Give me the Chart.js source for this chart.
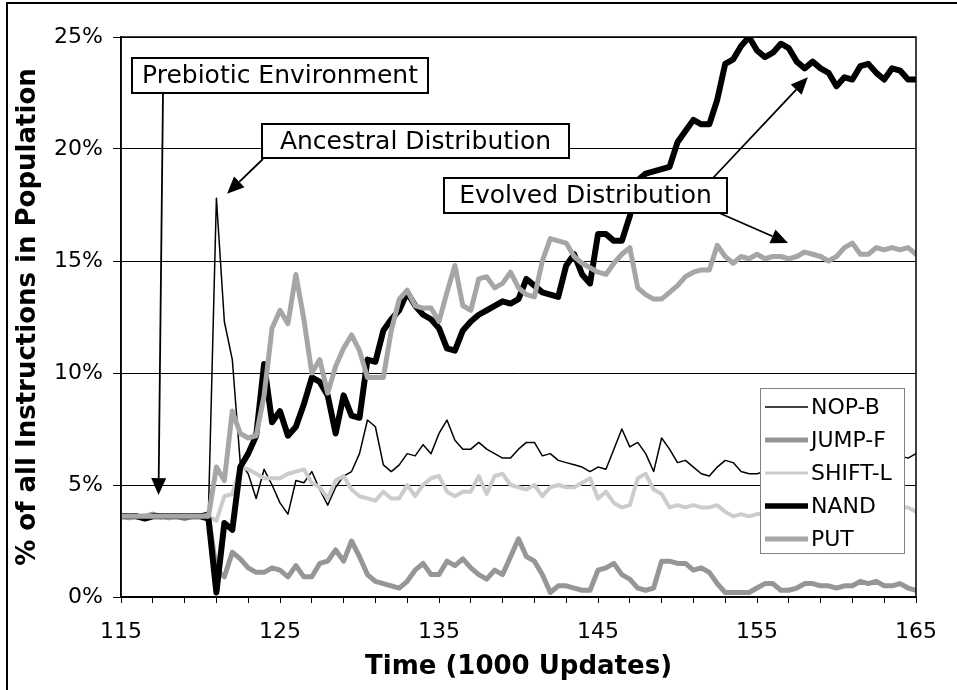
<!DOCTYPE html>
<html lang="en">
<head>
<meta charset="UTF-8">
<title>Instructions in Population</title>
<script src="https://cdn.jsdelivr.net/npm/chart.js"></script>
<style>
  html, body { margin: 0; padding: 0; background: #fff; }
  #wrap { width: 957px; height: 690px; }
</style>
</head>
<body>
<div id="wrap"><canvas id="chart" width="957" height="690"></canvas></div>
<script>
// time axis, in 1000 updates
const updates = [
  115, 115.5, 116, 116.5, 117, 117.5, 118, 118.5, 119, 119.5,
  120, 120.5, 121, 121.5, 122, 122.5, 123, 123.5, 124, 124.5,
  125, 125.5, 126, 126.5, 127, 127.5, 128, 128.5, 129, 129.5,
  130, 130.5, 131, 131.5, 132, 132.5, 133, 133.5, 134, 134.5,
  135, 135.5, 136, 136.5, 137, 137.5, 138, 138.5, 139, 139.5,
  140, 140.5, 141, 141.5, 142, 142.5, 143, 143.5, 144, 144.5,
  145, 145.5, 146, 146.5, 147, 147.5, 148, 148.5, 149, 149.5,
  150, 150.5, 151, 151.5, 152, 152.5, 153, 153.5, 154, 154.5,
  155, 155.5, 156, 156.5, 157, 157.5, 158, 158.5, 159, 159.5,
  160, 160.5, 161, 161.5, 162, 162.5, 163, 163.5, 164, 164.5,
  165
];

// % of all instructions
const nopB = [
  3.6, 3.6, 3.5, 3.6, 3.6, 3.5, 3.6, 3.6, 3.6, 3.6,
  3.7, 3.8, 17.8, 12.3, 10.6, 6.0, 5.5, 4.4, 5.7, 5.0,
  4.2, 3.7, 5.2, 5.1, 5.6, 4.8, 4.1, 4.9, 5.4, 5.6,
  6.4, 7.9, 7.6, 5.9, 5.6, 5.9, 6.4, 6.3, 6.8, 6.4,
  7.3, 7.9, 7.0, 6.6, 6.6, 6.9, 6.6, 6.4, 6.2, 6.2,
  6.6, 6.9, 6.9, 6.3, 6.4, 6.1, 6.0, 5.9, 5.8, 5.6,
  5.8, 5.7, 6.6, 7.5, 6.7, 6.9, 6.4, 5.6, 7.1, 6.6,
  6.0, 6.1, 5.8, 5.5, 5.4, 5.8, 6.1, 6.0, 5.6, 5.5,
  5.5, 5.6, 5.8, 5.7, 5.9, 6.1, 5.9, 5.8, 6.0, 6.2,
  6.0, 5.9, 6.1, 6.3, 6.2, 6.0, 6.2, 6.4, 6.3, 6.2,
  6.4
];
const jumpF = [
  3.6, 3.6, 3.6, 3.6, 3.7, 3.6, 3.6, 3.6, 3.5, 3.6,
  3.6, 3.6, 1.2, 0.9, 2.0, 1.7, 1.3, 1.1, 1.1, 1.3,
  1.2, 0.9, 1.4, 0.9, 0.9, 1.5, 1.6, 2.1, 1.6, 2.5,
  1.8, 1.0, 0.7, 0.6, 0.5, 0.4, 0.7, 1.2, 1.5, 1.0,
  1.0, 1.6, 1.4, 1.7, 1.3, 1.0, 0.8, 1.2, 1.0, 1.8,
  2.6, 1.8, 1.6, 1.0, 0.2, 0.5, 0.5, 0.4, 0.3, 0.3,
  1.2, 1.3, 1.5, 1.0, 0.8, 0.4, 0.3, 0.4, 1.6, 1.6,
  1.5, 1.5, 1.2, 1.3, 1.1, 0.6, 0.2, 0.2, 0.2, 0.2,
  0.4, 0.6, 0.6, 0.3, 0.3, 0.4, 0.6, 0.6, 0.5, 0.5,
  0.4, 0.5, 0.5, 0.7, 0.6, 0.7, 0.5, 0.5, 0.6, 0.4,
  0.3
];
const shiftL = [
  3.6, 3.5, 3.6, 3.6, 3.6, 3.6, 3.5, 3.6, 3.6, 3.6,
  3.6, 3.6, 3.4, 4.5, 4.6, 5.8, 5.7, 5.5, 5.3, 5.3,
  5.3, 5.5, 5.6, 5.7, 5.1, 4.9, 4.4, 5.2, 5.4, 4.8,
  4.5, 4.4, 4.3, 4.7, 4.4, 4.4, 5.0, 4.5, 5.0, 5.3,
  5.4, 4.7, 4.5, 4.7, 4.7, 5.4, 4.6, 5.4, 5.5, 5.0,
  4.9, 4.8, 5.0, 4.5, 4.9, 5.0, 4.9, 4.9, 5.1, 5.3,
  4.4, 4.7, 4.2, 4.0, 4.1, 5.3, 5.5, 4.8, 4.6, 4.0,
  4.1, 4.0, 4.1, 4.0, 4.0, 4.1, 3.8, 3.6, 3.7, 3.6,
  3.7, 3.7, 3.8, 3.6, 3.7, 3.8, 3.7, 3.9, 3.8, 3.7,
  3.8, 3.9, 3.8, 3.7, 3.9, 4.0, 3.9, 3.8, 4.0, 4.0,
  3.8
];
const nand = [
  3.6, 3.6, 3.6, 3.5, 3.6, 3.6, 3.6, 3.6, 3.6, 3.6,
  3.6, 3.5, 0.2, 3.3, 3.0, 5.8, 6.4, 7.2, 10.4, 7.8,
  8.3, 7.2, 7.6, 8.6, 9.8, 9.6, 9.0, 7.3, 9.0, 8.1,
  8.0, 10.6, 10.5, 11.9, 12.4, 12.8, 13.6, 13.0, 12.6, 12.4,
  12.0, 11.1, 11.0, 11.9, 12.3, 12.6, 12.8, 13.0, 13.2, 13.1,
  13.3, 14.2, 13.9, 13.6, 13.5, 13.4, 14.8, 15.3, 14.4, 14.0,
  16.2, 16.2, 15.9, 15.9, 17.0, 18.6, 18.9, 19.0, 19.1, 19.2,
  20.3, 20.8, 21.3, 21.1, 21.1, 22.2, 23.8, 24.0, 24.6, 25.0,
  24.4, 24.1, 24.3, 24.7, 24.5, 23.9, 23.6, 23.9, 23.6, 23.4,
  22.8, 23.2, 23.1, 23.7, 23.8, 23.4, 23.1, 23.6, 23.5, 23.1,
  23.1
];
const put = [
  3.6, 3.6, 3.6, 3.6, 3.6, 3.6, 3.6, 3.6, 3.6, 3.6,
  3.6, 3.6, 5.8, 5.2, 8.3, 7.3, 7.1, 7.2, 9.0, 12.0,
  12.8, 12.2, 14.4, 12.4, 10.0, 10.6, 9.1, 10.3, 11.1, 11.7,
  11.0, 9.8, 9.8, 9.8, 11.9, 13.3, 13.7, 13.0, 12.9, 12.9,
  12.3, 13.6, 14.8, 13.0, 12.8, 14.2, 14.3, 13.8, 14.0, 14.5,
  13.8, 13.5, 13.4, 15.0, 16.0, 15.9, 15.8, 15.2, 14.9, 14.7,
  14.5, 14.4, 14.9, 15.3, 15.6, 13.8, 13.5, 13.3, 13.3, 13.6,
  13.9, 14.3, 14.5, 14.6, 14.6, 15.7, 15.2, 14.9, 15.2, 15.1,
  15.3, 15.1, 15.2, 15.2, 15.1, 15.2, 15.4, 15.3, 15.2, 15.0,
  15.2, 15.6, 15.8, 15.3, 15.3, 15.6, 15.5, 15.6, 15.5, 15.6,
  15.3
];

const seriesNames = ['NOP-B', 'JUMP-F', 'SHIFT-L', 'NAND', 'PUT'];
const xTicks = [115, 117, 119, 121, 123, 125, 127, 129, 131, 133, 135, 137, 139,
  141, 143, 145, 147, 149, 151, 153, 155, 157, 159, 161, 163, 165];

const FONT = '"DejaVu Sans", Verdana, sans-serif';

const styles = [
  { color: '#000000', width: 1.5, legendWidth: 1.5 },
  { color: '#969696', width: 5, legendWidth: 5 },
  { color: '#cccccc', width: 4, legendWidth: 3 },
  { color: '#000000', width: 6, legendWidth: 5.5 },
  { color: '#a6a6a6', width: 5, legendWidth: 5 }
];
const values = [nopB, jumpF, shiftL, nand, put];

// text boxes and where their arrows point (tip in data units)
const notes = [
  { text: 'Prebiotic Environment', box: [132, 58, 428, 93],
    arrows: [{ from: [163, 93], to: [117.36, 4.55] }] },
  { text: 'Ancestral Distribution', box: [262, 124, 569, 158],
    arrows: [{ from: [263, 159], to: [121.67, 18.0] }] },
  { text: 'Evolved Distribution', box: [444, 178, 727, 213],
    arrows: [{ from: [713, 178], to: [158.2, 23.2] }, { from: [717, 212], to: [156.95, 15.8] }] }
];

function arrow(c, x1, y1, x2, y2) {
  const ang = Math.atan2(y2 - y1, x2 - x1);
  const len = 17, half = 7.5;
  const bx = x2 - len * Math.cos(ang), by = y2 - len * Math.sin(ang);
  c.lineWidth = 1.8;
  c.beginPath(); c.moveTo(x1, y1); c.lineTo(bx, by); c.stroke();
  c.beginPath();
  c.moveTo(x2, y2);
  c.lineTo(bx + half * Math.sin(ang), by - half * Math.cos(ang));
  c.lineTo(bx - half * Math.sin(ang), by + half * Math.cos(ang));
  c.closePath(); c.fill();
}

const overlay = {
  id: 'overlay',
  beforeDraw(chart) {
    const c = chart.ctx;
    c.save();
    c.fillStyle = '#fff';
    c.fillRect(0, 0, chart.width, chart.height);
    // outer frame (only top and left show in the picture)
    c.strokeStyle = '#000';
    c.lineWidth = 2;
    c.beginPath();
    c.moveTo(7, chart.height); c.lineTo(7, 3); c.lineTo(chart.width, 3);
    c.stroke();
    c.restore();
  },
  afterDatasetsDraw(chart) {
    const { ctx: c, chartArea: a, scales: { x, y } } = chart;
    c.save();
    c.strokeStyle = '#000';
    c.lineWidth = 1.5;
    c.strokeRect(a.left, a.top, a.right - a.left, a.bottom - a.top);

    // annotations
    c.fillStyle = '#000';
    notes.forEach(n => n.arrows.forEach(ar => {
      arrow(c, ar.from[0], ar.from[1], x.getPixelForValue(ar.to[0]), y.getPixelForValue(ar.to[1]));
    }));
    c.font = '25px ' + FONT;
    c.textAlign = 'center';
    c.textBaseline = 'middle';
    notes.forEach(n => {
      const [x0, y0, x1, y1] = n.box;
      c.fillStyle = '#fff';
      c.fillRect(x0, y0, x1 - x0, y1 - y0);
      c.lineWidth = 2;
      c.strokeStyle = '#000';
      c.strokeRect(x0, y0, x1 - x0, y1 - y0);
      c.fillStyle = '#000';
      c.fillText(n.text, (x0 + x1) / 2, (y0 + y1) / 2 + 1);
    });

    // legend box
    const lx0 = 760, ly0 = 388, lx1 = 904, ly1 = 553;
    c.fillStyle = '#fff';
    c.fillRect(lx0, ly0, lx1 - lx0, ly1 - ly0);
    c.strokeStyle = '#808080';
    c.lineWidth = 1;
    c.strokeRect(lx0 + 0.5, ly0 + 0.5, lx1 - lx0, ly1 - ly0);
    c.font = '22px ' + FONT;
    c.textAlign = 'left';
    c.textBaseline = 'middle';
    seriesNames.forEach((name, i) => {
      const ry = 407 + i * 33;
      c.strokeStyle = styles[i].color;
      c.lineWidth = styles[i].legendWidth;
      c.beginPath(); c.moveTo(765, ry); c.lineTo(808, ry); c.stroke();
      c.fillStyle = '#000';
      c.fillText(name, 811, ry + 1);
    });
    c.restore();
  }
};

new Chart(document.getElementById('chart'), {
  type: 'line',
  data: {
    datasets: seriesNames.map((name, i) => ({
      label: name,
      data: updates.map((u, k) => ({ x: u, y: values[i][k] })),
      borderColor: styles[i].color,
      borderWidth: styles[i].width,
      pointRadius: 0,
      tension: 0,
      borderJoinStyle: 'round',
      borderCapStyle: 'round',
      order: seriesNames.length - 1 - i
    }))
  },
  options: {
    responsive: false,
    animation: false,
    devicePixelRatio: 1,
    layout: { padding: { top: 37, right: 41, left: 0, bottom: 0 } },
    plugins: { legend: { display: false }, tooltip: { enabled: false } },
    scales: {
      x: {
        type: 'linear',
        min: 115,
        max: 165,
        afterBuildTicks(scale) { scale.ticks = xTicks.map(v => ({ value: v })); },
        afterFit(scale) { scale.height = 93; },
        ticks: {
          autoSkip: false,
          maxRotation: 0,
          padding: 16,
          color: '#000',
          font: { family: FONT, size: 22 },
          callback: v => ((v - 115) % 10 === 0 ? String(v) : '')
        },
        grid: { drawOnChartArea: false, color: '#000', tickLength: 6, lineWidth: 1 },
        border: { color: '#000', width: 1.5 },
        title: {
          display: true,
          text: 'Time (1000 Updates)',
          color: '#000',
          font: { family: FONT, size: 26, weight: 'bold' },
          padding: { top: 0, bottom: 7 }
        }
      },
      y: {
        min: 0,
        max: 25,
        afterFit(scale) { scale.width = 121; },
        ticks: {
          stepSize: 5,
          padding: 10,
          color: '#000',
          font: { family: FONT, size: 22 },
          callback: v => v + '%'
        },
        grid: { color: '#000', lineWidth: 1, tickLength: 8 },
        border: { color: '#000', width: 1.5 },
        title: {
          display: true,
          text: '% of all Instructions in Population',
          color: '#000',
          font: { family: FONT, size: 26, weight: 'bold' },
          padding: { top: 13, bottom: 0 }
        }
      }
    }
  },
  plugins: [overlay]
});
</script>
</body>
</html>
